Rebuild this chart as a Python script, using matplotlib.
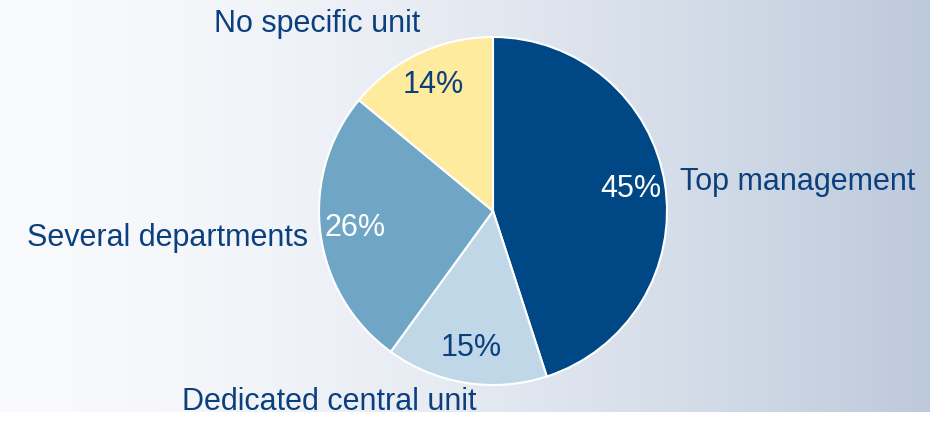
import numpy as np
import matplotlib.pyplot as plt

# data
labels = ['Top management', 'Dedicated central unit', 'Several departments', 'No specific unit']
shares = [45, 15, 26, 14]
colors = ['#004785', '#bfd7e6', '#6fa6c6', '#feeb9d']
pct_colors = ['white', '#0b3f7d', 'white', '#0b3f7d']

text_blue = '#0b3f7d'
plt.rcParams['font.family'] = ['Liberation Sans', 'DejaVu Sans']

fig = plt.figure(figsize=(9.3, 4.22), dpi=100)

# background: horizontal gradient, white strip at the bottom
bg = fig.add_axes([0, 10 / 422, 1, 412 / 422])
t = np.linspace(0, 1, 400)
t = t ** 1.6
left = np.array([0.975, 0.98, 0.99])
right = np.array([0.74, 0.79, 0.86])
grad = left[None, :] * (1 - t[:, None]) + right[None, :] * t[:, None]
bg.imshow(grad[None, :, :], aspect='auto', extent=[0, 1, 0, 1])
bg.set_axis_off()

# pie axes: center (493, 211) px, radius 174 px
cx, cy, r = 493, 211, 174
ax = fig.add_axes([(cx - r) / 930, (422 - cy - r) / 422, 2 * r / 930, 2 * r / 422])
wedges, txts, pcts = ax.pie(shares, colors=colors, startangle=90, counterclock=False,
                            labels=labels, autopct='%d%%', pctdistance=0.8,
                            wedgeprops=dict(edgecolor='white', linewidth=1.5),
                            textprops=dict(fontsize=22, color=text_blue))
ax.set_xlim(-1, 1)
ax.set_ylim(-1, 1)
ax.set_aspect('auto')

for p, c in zip(pcts, pct_colors):
    p.set_color(c)

# outer label placement (axes data units)
label_pos = [(1.075, 0.167, 'left'), (-0.943, -1.1, 'center'),
             (-1.063, -0.155, 'right'), (-1.01, 1.075, 'center')]
for tx, (x, y, ha) in zip(txts, label_pos):
    tx.set_position((x, y))
    tx.set_ha(ha)
    tx.set_va('center')
    tx.set_clip_on(False)

fig.savefig('out.png', dpi=100)
